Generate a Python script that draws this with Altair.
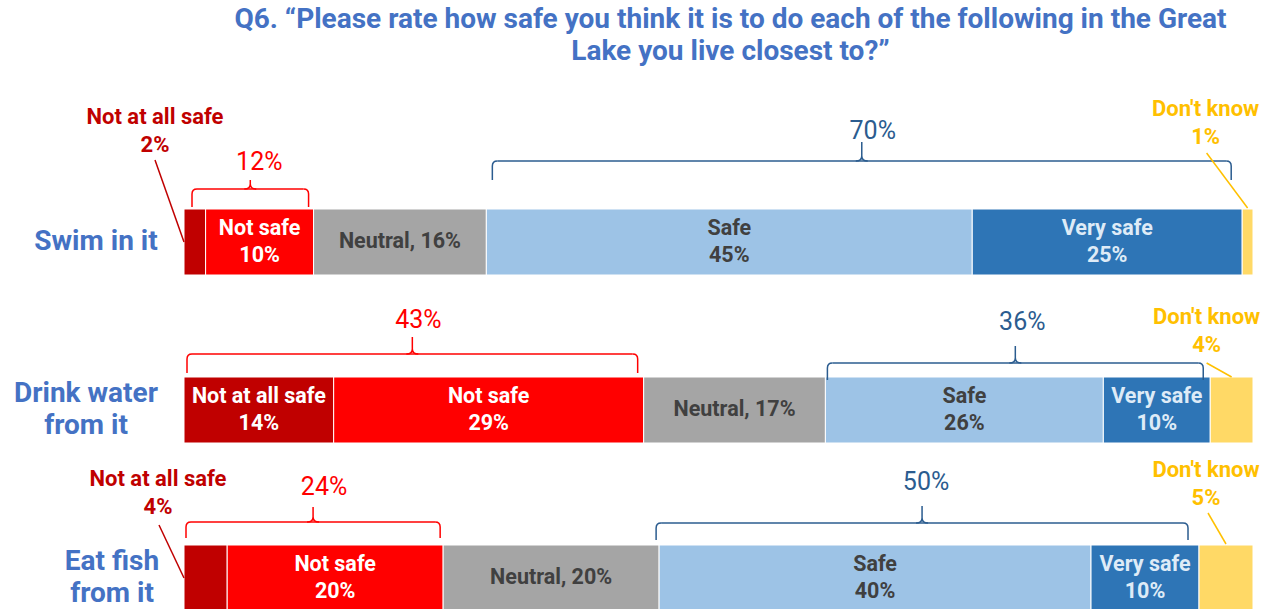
import altair as alt
import pandas as pd

# ---------------- data ----------------
ROWS = ["Swim in it", "Drink water\nfrom it", "Eat fish\nfrom it"]
CATEGORIES = ["Not at all safe", "Not safe", "Neutral", "Safe", "Very safe", "Don't know"]
SWIM = [2, 10, 16, 45, 25, 1]
DRINK = [14, 29, 17, 26, 10, 4]
FISH = [4, 20, 20, 40, 10, 5]
SERIES = [SWIM, DRINK, FISH]
NEG_GROUP = ["Not at all safe", "Not safe"]
POS_GROUP = ["Safe", "Very safe"]
TITLE = ["Q6. \u201cPlease rate how safe you think it is to do each of the following in the Great",
         "Lake you live closest to?\u201d"]

# ---------------- styles ----------------
FONT = "Roboto"
COLORS = ["#C00000", "#FF0000", "#A5A5A5", "#9DC3E6", "#2E75B6", "#FFD966"]
TEXT_COLORS = ["#FFFFFF", "#FFFFFF", "#404040", "#404040", "#DEEBF7", "#FFFFFF"]
NEG_COLOR = "#FF0000"
POS_COLOR = "#2B5C8F"
LABEL_BLUE = "#4472C4"
OUT_COLORS = {"Not at all safe": "#C00000", "Don't know": "#FFC000"}
ROW_LABEL_DX = [-88, -98, -72]   # centre of each row-label block, left of the bars
ROW_LH = 32

# bracket geometry (pixel offsets from the row centre)
BRACKET_STYLE = {
    (0, "neg"): dict(L=-53, bottom=-35, peak=-62, ty=-80, il=8, ir=-5, tdx=9),
    (0, "pos"): dict(L=-81, bottom=-62, peak=-100, ty=-111, il=6, ir=-11, tdx=11),
    (1, "neg"): dict(L=-56, bottom=-37, peak=-73, ty=-90, il=3, ir=-6, tdx=6),
    (1, "pos"): dict(L=-47, bottom=-30, peak=-64, ty=-88, il=2, ir=-7, tdx=7),
    (2, "neg"): dict(L=-56, bottom=-40, peak=-71, ty=-91, il=2, ir=-3, tdx=11),
    (2, "pos"): dict(L=-55, bottom=-38, peak=-72, ty=-96, il=-3, ir=-11, tdx=4),
}
# outside labels with leader lines (dy = centre of the two-line block)
OUTSIDE_STYLE = {
    (0, "Not at all safe"): dict(anchor="start", leader="M0,0 L-29,-82", dx=-29, dy=-111),
    (2, "Not at all safe"): dict(anchor="start", leader="M0,0 L-25,-53", dx=-26, dy=-85),
    (0, "Don't know"): dict(anchor="mid", leader="M0,-34 L-41,-89", dx=-42, dy=-119),
    (1, "Don't know"): dict(anchor="mid", leader="M0,-33 L-25,-47", dx=-25, dy=-79),
    (2, "Don't know"): dict(anchor="mid", leader="M0,-34 L-18,-65", dx=-20, dy=-94),
}
IN_LH = 27
OUT_LH = 28

# ---------------- tables built from the arrays ----------------
seg_rows = []
br_rows = []
for ri, (row, vals) in enumerate(zip(ROWS, SERIES)):
    total = sum(vals)
    cum = 0.0
    bounds = {}
    for ci, (cat, v) in enumerate(zip(CATEGORIES, vals)):
        share = v / total * 100
        start, end = cum, cum + share
        cum = end
        bounds[cat] = (start, end, v)
        label = f"{cat}, {v}%" if cat == "Neutral" else f"{cat}\n{v}%"
        seg_rows.append(dict(ri=ri, row=row, category=cat, value=v, start=start, end=end,
                             mid=(start + end) / 2, label=label, tcolor=TEXT_COLORS[ci],
                             inside=share >= 8, multi="\n" in label))
    for grp, cats in (("neg", NEG_GROUP), ("pos", POS_GROUP)):
        x0 = bounds[cats[0]][0]
        x1 = bounds[cats[-1]][1]
        tot = sum(bounds[c][2] for c in cats)
        br_rows.append(dict(ri=ri, row=row, grp=grp, x0=x0, x1=x1, xc=(x0 + x1) / 2,
                            label=f"{tot}%"))
seg = pd.DataFrame(seg_rows)
br = pd.DataFrame(br_rows)

Y = alt.Y("row:N", sort=ROWS, title=None,
          scale=alt.Scale(paddingInner=0, paddingOuter=0), axis=None)
XS = alt.Scale(domain=[0, 100], nice=False, zero=True)

bars = alt.Chart(seg).mark_bar(height=66, stroke="white", strokeWidth=1).encode(
    x=alt.X("start:Q", scale=XS, axis=None),
    x2="end:Q",
    y=Y,
    color=alt.Color("category:N", scale=alt.Scale(domain=CATEGORIES, range=COLORS), legend=None),
)

layers = [bars]

# row labels (centred lines, block right edge near the bars)
for ri, row in enumerate(ROWS):
    sub = seg[(seg["ri"] == ri) & (seg["category"] == CATEGORIES[0])]
    n = row.count("\n") + 1
    layers.append(alt.Chart(sub).mark_text(
        font=FONT, fontSize=28, fontWeight="bold", color=LABEL_BLUE, lineBreak="\n",
        lineHeight=ROW_LH, align="center", baseline="middle",
        dx=ROW_LABEL_DX[ri], dy=-(n - 1) * ROW_LH / 2,
    ).encode(x=alt.X("start:Q", scale=XS, axis=None), y=Y, text="row:N"))

for multi in (True, False):
    sub = seg[seg["inside"] & (seg["multi"] == multi)]
    layers.append(alt.Chart(sub).mark_text(
        font=FONT, fontSize=21.5, fontWeight="bold", lineBreak="\n", lineHeight=IN_LH,
        align="center", baseline="middle", dy=-IN_LH / 2 if multi else 0,
    ).encode(
        x=alt.X("mid:Q", scale=XS, axis=None), y=Y, text="label:N",
        color=alt.Color("tcolor:N", scale=None),
    ))

# brackets
for (ri, grp), st in BRACKET_STYLE.items():
    sub = br[(br["ri"] == ri) & (br["grp"] == grp)]
    col = NEG_COLOR if grp == "neg" else POS_COLOR
    L, B, P = st["L"], st["bottom"], st["peak"]
    r = 5
    base = alt.Chart(sub)
    layers.append(base.mark_rule(color=col, strokeWidth=1.5, xOffset=st["il"] + r,
                                 x2Offset=st["ir"] - r, yOffset=L).encode(
        x=alt.X("x0:Q", scale=XS, axis=None), x2="x1:Q", y=Y))
    left_path = f"M{r},{L} Q0,{L} 0,{L + r} L0,{B}"
    right_path = f"M{-r},{L} Q0,{L} 0,{L + r} L0,{B}"
    cusp_path = (f"M-6,{L} Q0,{L} 0,{L - 5} L0,{P} "
                 f"M6,{L} Q0,{L} 0,{L - 5} L0,{P}")
    for field, path, off in (("x0", left_path, st["il"]), ("x1", right_path, st["ir"]),
                             ("xc", cusp_path, (st["il"] + st["ir"]) / 2)):
        layers.append(base.mark_point(shape=path, size=4, filled=False, color=col,
                                      strokeWidth=1.5, opacity=1, xOffset=off).encode(
            x=alt.X(f"{field}:Q", scale=XS, axis=None), y=Y))
    layers.append(base.mark_text(font=FONT, fontSize=25, color=col, align="center",
                                 baseline="middle",
                                 dx=(st["il"] + st["ir"]) / 2 + st["tdx"], dy=st["ty"]).encode(
        x=alt.X("xc:Q", scale=XS, axis=None), y=Y, text="label:N"))

# outside labels with leaders
for (ri, cat), st in OUTSIDE_STYLE.items():
    sub = seg[(seg["ri"] == ri) & (seg["category"] == cat)]
    col = OUT_COLORS[cat]
    xf = "start" if st["anchor"] == "start" else "mid"
    base = alt.Chart(sub)
    layers.append(base.mark_point(shape=st["leader"], size=4, filled=False, color=col,
                                  strokeWidth=1.5, opacity=1).encode(
        x=alt.X(f"{xf}:Q", scale=XS, axis=None), y=Y))
    layers.append(base.mark_text(font=FONT, fontSize=22, fontWeight="bold", color=col,
                                 lineBreak="\n", lineHeight=OUT_LH, align="center",
                                 baseline="middle", dx=st["dx"],
                                 dy=st["dy"] - OUT_LH / 2).encode(
        x=alt.X(f"{xf}:Q", scale=XS, axis=None), y=Y, text="label:N"))

chart = alt.layer(*layers).properties(
    width=1069, height=504,
    title=alt.Title(text=TITLE, font=FONT, fontSize=28, fontWeight="bold", color=LABEL_BLUE,
                    anchor="middle", frame="group", dx=12, offset=32, lineHeight=32),
    autosize=alt.AutoSizeParams(type="none"),
    padding={"left": 184, "top": 158, "right": 20, "bottom": 0},
).configure(background="white").configure_view(stroke=None, strokeWidth=0)

chart.save("out.html", embed_options={"renderer": "svg", "actions": False})
